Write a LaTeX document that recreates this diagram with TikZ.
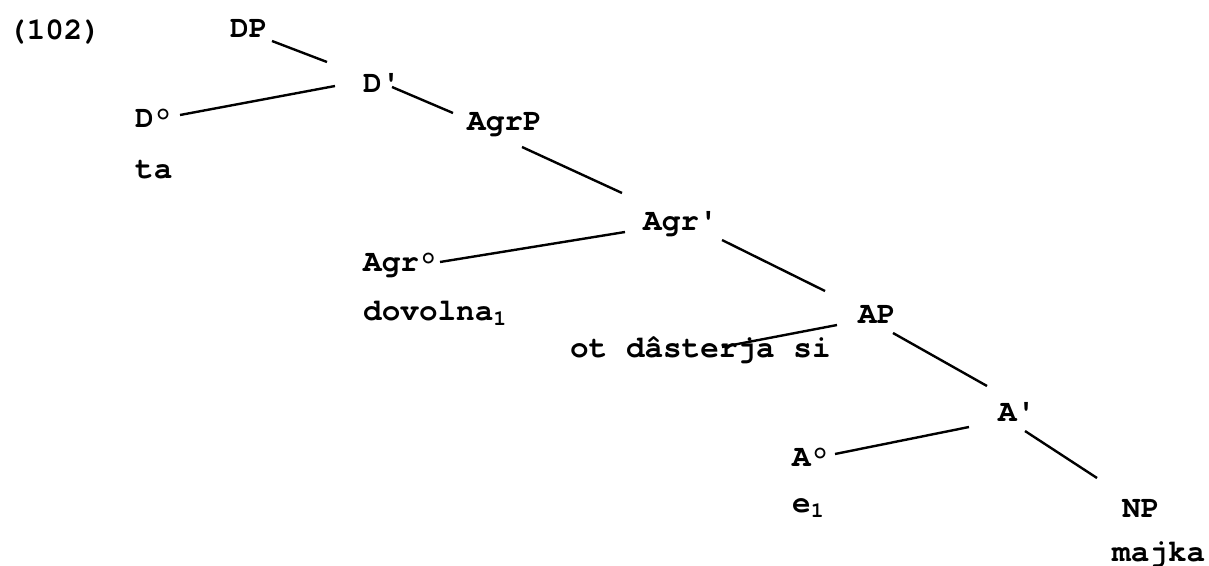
\documentclass[tikz,border=0pt]{standalone}
\usepackage{fontspec}
\setmonofont{texgyrecursor}[Extension=.otf, UprightFont=*-regular, BoldFont=*-bold]
\usetikzlibrary{calc}
\newcommand\ap{{\char"27\relax}}
\begin{document}
\begin{tikzpicture}[x=1pt,y=-1pt,
  lab/.style={anchor=base west, inner sep=0pt, font=\ttfamily\bfseries\fontsize{31}{36}\selectfont},
  edge/.style={line width=2.4pt}]
\useasboundingbox (0,0) rectangle (1209,565);
\node[lab] (ex) at (8,39) {(102)};
\node[lab] (DP) at (230,37) {DP};
\node[lab] (Db) at (363,92) {D\ap};
\node[lab] (Do) at (135,127) {D°};
\node[lab] (ta) at (135,178) {ta};
\node[lab] (AgrP) at (467,130) {AgrP};
\node[lab] (Agrb) at (643,230) {Agr\ap};
\node[lab] (Agro) at (363,271) {Agr°};
\node[lab] (dov) at (363,320) {dovolna\textsubscript{1}};
\node[lab] (AP) at (858,323) {AP};
\node[lab] (ot) at (570,357) {ot dâsterja si};
\node[lab] (Ab) at (998,421) {A\ap};
\node[lab] (Ao) at (792,466) {A°};
\node[lab] (e) at (792,512) {e\textsubscript{1}};
\node[lab] (NP) at (1122,517) {NP};
\node[lab] (majka) at (1112,561) {majka};
\draw[edge] ($(DP.base west)+(42,4)$) -- ($(Db.base west)+(-36,-30)$);
\draw[edge] ($(Db.base west)+(-28,-6)$) -- ($(Do.base west)+(45,-12)$);
\draw[edge] ($(Db.base west)+(29,-5)$) -- ($(AgrP.base west)+(-14,-17)$);
\draw[edge] ($(AgrP.base west)+(55,17)$) -- ($(Agrb.base west)+(-21,-37)$);
\draw[edge] ($(Agrb.base west)+(-18,2)$) -- ($(Agro.base west)+(77,-9)$);
\draw[edge] ($(Agrb.base west)+(79,10)$) -- ($(AP.base west)+(-33,-32)$);
\draw[edge] ($(AP.base west)+(-21,2)$) -- ($(ot.base west)+(152,-10)$);
\draw[edge] ($(AP.base west)+(35,10)$) -- ($(Ab.base west)+(-11,-35)$);
\draw[edge] ($(Ab.base west)+(-29,6)$) -- ($(Ao.base west)+(43,-12)$);
\draw[edge] ($(Ab.base west)+(27,10)$) -- ($(NP.base west)+(-25,-39)$);
\end{tikzpicture}
\end{document}
